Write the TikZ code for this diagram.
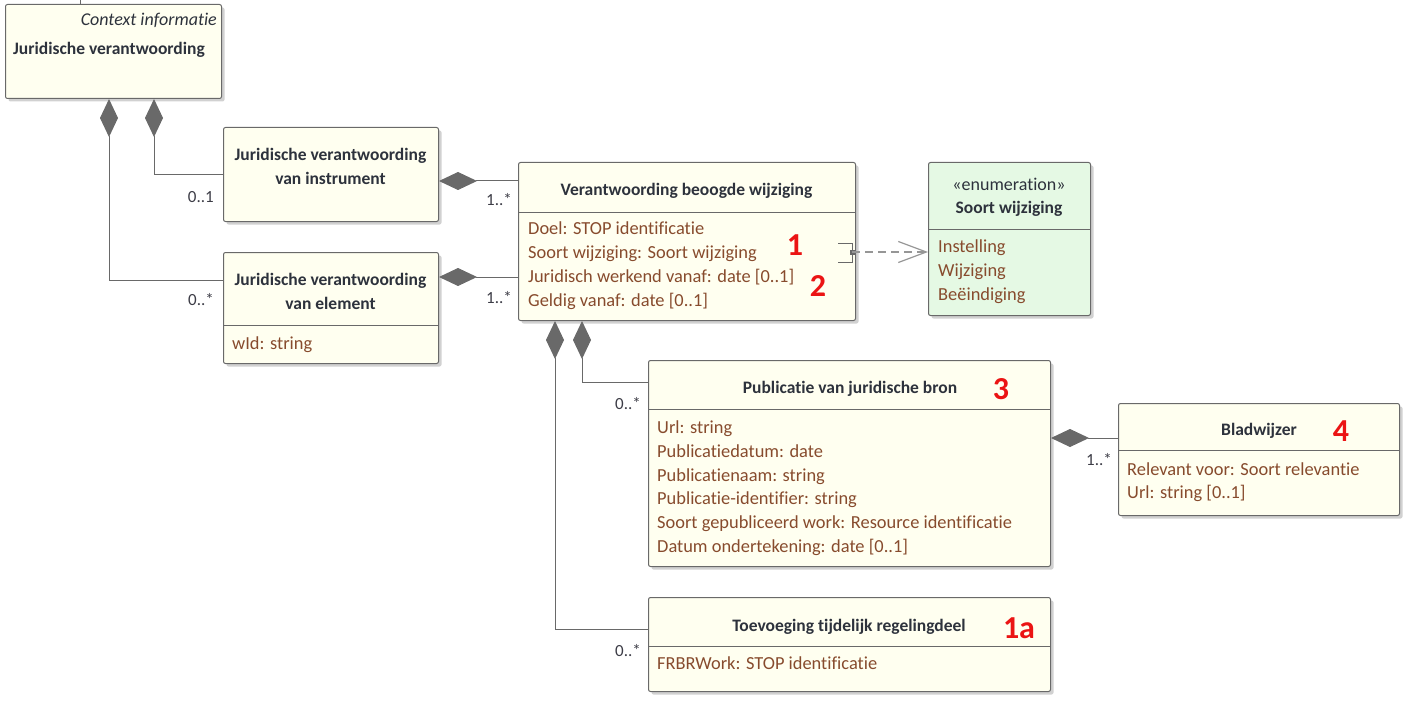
\documentclass[tikz,border=0pt]{standalone}
\usepackage{fontspec}
\setmainfont{Carlito}[Ligatures=NoCommon]
\usetikzlibrary{arrows.meta,shadows,calc}
\definecolor{boxfill}{RGB}{255,255,240}
\definecolor{enumfill}{RGB}{229,249,228}
\definecolor{edgec}{RGB}{105,105,105}
\definecolor{attrc}{RGB}{135,75,45}
\definecolor{ttlc}{RGB}{45,50,60}
\definecolor{multc}{RGB}{60,60,70}
\definecolor{rednum}{RGB}{235,20,20}
\definecolor{depc}{RGB}{150,150,150}
\begin{document}
\begin{tikzpicture}[x=1pt,y=-1pt,
  umlbox/.style={draw=edgec, line width=1pt, fill=boxfill, rounded corners=2pt, anchor=north west, inner sep=0pt,
    drop shadow={shadow xshift=3pt, shadow yshift=-3pt, opacity=0.3, fill=black!60}},
  enumbox/.style={umlbox, fill=enumfill},
  sepline/.style={draw=edgec, line width=1pt},
  ttl/.style={font=\fontsize{17.5}{20}\selectfont\bfseries, text=ttlc, inner sep=0pt, text height=13pt, text depth=4pt},
  attr/.style={font=\fontsize{18.4}{21}\selectfont, text=attrc, inner sep=0pt, anchor=west, text height=13pt, text depth=4pt},
  mult/.style={font=\fontsize{17}{19}\selectfont, text=multc, inner sep=0pt, text height=12pt, text depth=4pt},
  num/.style={font=\fontsize{32}{36}\selectfont\bfseries, text=rednum, inner sep=0pt, text height=22pt, text depth=0pt},
  conn/.style={draw=edgec, line width=1pt},
  comp/.style={conn, {Diamond[length=38pt,width=18pt,fill=edgec]}-},
]
\useasboundingbox (0,0) rectangle (1409,706);

% ---- boxes ----
\node[umlbox, minimum width=216pt, minimum height=94pt] (jv) at (5,4) {};
\node[font=\fontsize{18}{21}\selectfont\itshape, text=ttlc, inner sep=0pt, anchor=east, text height=13pt, text depth=4pt] (jvctx) at (217,21) {Context informatie};
\node[ttl, anchor=west] (jvt) at (13,50) {Juridische verantwoording};

\node[umlbox, minimum width=215pt, minimum height=94pt] (jvi) at (223,127) {};
\node[ttl] (jvit1) at (330.5,156) {Juridische verantwoording};
\node[ttl] (jvit2) at (330.5,180) {van instrument};

\node[umlbox, minimum width=215pt, minimum height=111pt] (jve) at (223,252) {};
\node[ttl] (jvet1) at (330.5,281) {Juridische verantwoording};
\node[ttl] (jvet2) at (330.5,305) {van element};
\draw[sepline] (jve.west |- 0,325) -- (jve.east |- 0,325);
\node[attr] (jvea1) at (232,345) {wId: string};

\node[umlbox, minimum width=337pt, minimum height=158pt] (vbw) at (518,162) {};
\node[ttl] (vbwt) at (686.5,191) {Verantwoording beoogde wijziging};
\draw[sepline] (vbw.west |- 0,212) -- (vbw.east |- 0,212);
\node[attr] (vbwa1) at (528,230) {Doel: STOP identificatie};
\node[attr] (vbwa2) at (528,254) {Soort wijziging: Soort wijziging};
\node[attr] (vbwa3) at (528,278) {Juridisch werkend vanaf: date [0..1]};
\node[attr] (vbwa4) at (528,302) {Geldig vanaf: date [0..1]};

\node[enumbox, minimum width=162pt, minimum height=153pt] (sw) at (928,162) {};
\node[font=\fontsize{18}{21}\selectfont, text=ttlc, inner sep=0pt, text height=13pt, text depth=4pt] (swst) at (1009,186) {«enumeration»};
\node[ttl] (swt) at (1009,209) {Soort wijziging};
\draw[sepline] (sw.west |- 0,229) -- (sw.east |- 0,229);
\node[attr] (swa1) at (938,248) {Instelling};
\node[attr] (swa2) at (938,272) {Wijziging};
\node[attr] (swa3) at (938,296) {Beëindiging};

\node[umlbox, minimum width=402pt, minimum height=206pt] (pub) at (648,360) {};
\node[ttl] (pubt) at (850,389) {Publicatie van juridische bron};
\draw[sepline] (pub.west |- 0,409) -- (pub.east |- 0,409);
\node[attr] (puba1) at (657,429) {Url: string};
\node[attr] (puba2) at (657,453) {Publicatiedatum: date};
\node[attr] (puba3) at (657,477) {Publicatienaam: string};
\node[attr] (puba4) at (657,500) {Publicatie-identifier: string};
\node[attr] (puba5) at (657,524) {Soort gepubliceerd work: Resource identificatie};
\node[attr] (puba6) at (657,548) {Datum ondertekening: date [0..1]};

\node[umlbox, minimum width=281pt, minimum height=112pt] (bw) at (1118,403) {};
\node[ttl] (bwt) at (1259,431) {Bladwijzer};
\draw[sepline] (bw.west |- 0,450) -- (bw.east |- 0,450);
\node[attr] (bwa1) at (1127,471) {Relevant voor: Soort relevantie};
\node[attr] (bwa2) at (1127,494) {Url: string [0..1]};

\node[umlbox, minimum width=402pt, minimum height=94pt] (toe) at (648,597) {};
\node[ttl] (toet) at (849,627) {Toevoeging tijdelijk regelingdeel};
\draw[sepline] (toe.west |- 0,646) -- (toe.east |- 0,646);
\node[attr] (toea1) at (657,665) {FRBRWork: STOP identificatie};

% ---- red numbers ----
\node[num] (n1) at (795,244) {1};
\node[num] (n2) at (818,285) {2};
\node[num] (n3) at (1001,388) {3};
\node[num] (n4) at (1341,430) {4};
\node[num] (n1a) at (1019,627) {1a};

% ---- connectors ----
\coordinate (offtop) at (80,0);
\draw[conn] (jv.north -| offtop) -- (offtop);

\coordinate (jvd1) at (154,0);
\coordinate (jvd2) at (109,0);
\draw[comp] (jv.south -| jvd1) |- (jvi.west);
\draw[comp] (jv.south -| jvd2) |- (jve.west |- 0,280);
\node[mult, anchor=east] (m1) at (214,198) {0..1};
\node[mult, anchor=east] (m2) at (214,301) {0..*};

\draw[comp] (jvi.east |- 0,181) -- (vbw.west |- 0,181);
\node[mult, anchor=east] (m3) at (512,201) {1..*};
\draw[comp] (jve.east |- 0,277) -- (vbw.west |- 0,277);
\node[mult, anchor=east] (m4) at (512,299) {1..*};

\coordinate (vd1) at (582,0);
\coordinate (vd2) at (555,0);
\draw[comp] (vbw.south -| vd1) |- (pub.west |- 0,382);
\node[mult, anchor=east] (m5) at (641,405) {0..*};
\draw[comp] (vbw.south -| vd2) |- (toe.west |- 0,629);
\node[mult, anchor=east] (m6) at (641,652) {0..*};

\draw[comp] (pub.east |- 0,438) -- (bw.west |- 0,438);
\node[mult, anchor=east] (m7) at (1112,461) {1..*};

% dependency
\coordinate (dep) at (852,252);
\draw[conn] (838,243) -- (852,243) -- (852,262) -- (838,262);
\fill[edgec] ($(dep)+(-2.5,-2.5)$) rectangle ($(dep)+(2.5,2.5)$);
\draw[draw=depc, line width=1.2pt, dash pattern=on 8pt off 5pt, -{Straight Barb[length=28pt,width=21pt]}] (dep) -- (sw.west |- dep);
\end{tikzpicture}
\end{document}
